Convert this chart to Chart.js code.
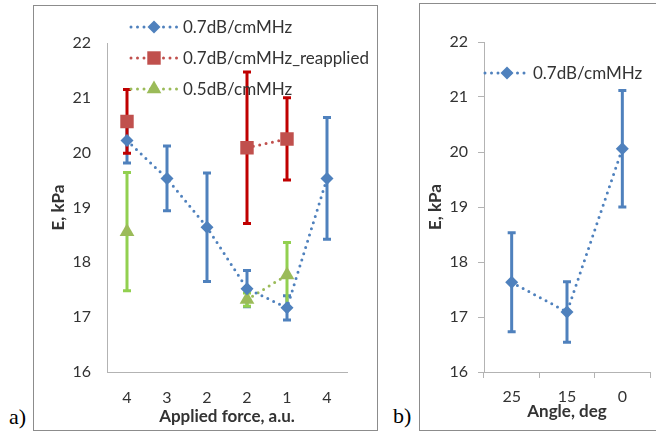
<!DOCTYPE html>
<html>
<head>
<meta charset="utf-8">
<script src="https://cdn.jsdelivr.net/npm/chart.js@4.4.1/dist/chart.umd.min.js"></script>
<style>
  html, body { margin: 0; padding: 0; background: #fff; width: 656px; height: 436px; overflow: hidden; }
  .box { position: absolute; border: 1px solid #8c8c8c; box-sizing: border-box; background: #fff; overflow: hidden; }
  .box canvas { display: block; }
  .tag { position: absolute; font-family: "Liberation Serif", "DejaVu Serif", serif; font-size: 22px; line-height: 22px; color: #000; }
</style>
</head>
<body>
<div class="box" style="left:33px;top:5px;width:345px;height:426px">
  <canvas id="forceChart" width="343" height="424"></canvas>
</div>
<div class="box" style="left:419px;top:3px;width:260px;height:428px">
  <canvas id="angleChart" width="258" height="426"></canvas>
</div>
<div class="tag" style="left:9px;top:406px">a)</div>
<div class="tag" style="left:393px;top:405px">b)</div>

<script>
// ---- data (a) applied force ----
const forceLabels = ['4', '3', '2', '2', '1', '4'];
const e07      = [20.22, 19.53, 18.64, 17.52, 17.17, 19.53];
const e07Err   = [0.41, 0.59, 0.99, 0.33, 0.22, 1.11];
const e07Re    = [20.57, null, null, 20.09, 20.25, null];
const e07ReErr = [0.58, null, null, 1.38, 0.75, null];
const e05      = [18.56, null, null, 17.32, 17.77, null];
const e05Err   = [1.08, null, null, 0.12, 0.59, null];

// ---- data (b) angle ----
const angleLabels = ['25', '15', '0'];
const eAngle    = [17.63, 17.09, 20.06];
const eAngleErr = [0.9, 0.55, 1.06];

const FONT = 'Lato, "Open Sans", sans-serif';
const TEXT = '#333';
const AXIS = '#b3b3b3';

function drawMarker(ctx, style, x, y, r, color) {
  ctx.fillStyle = color;
  ctx.beginPath();
  if (style === 'rectRot') {
    ctx.moveTo(x, y - r); ctx.lineTo(x + r, y); ctx.lineTo(x, y + r); ctx.lineTo(x - r, y);
  } else if (style === 'rect') {
    const s = r * Math.SQRT1_2;
    ctx.rect(x - s, y - s, 2 * s, 2 * s);
  } else {
    ctx.moveTo(x, y - r);
    ctx.lineTo(x + r * 0.866, y + r / 2);
    ctx.lineTo(x - r * 0.866, y + r / 2);
  }
  ctx.closePath();
  ctx.fill();
}

// error bars sit under the markers, like in Excel
const errorBars = {
  id: 'errorBars',
  beforeDatasetsDraw(chart) {
    const ctx = chart.ctx, y = chart.scales.y;
    ctx.save();
    chart.data.datasets.forEach((ds, di) => {
      if (!ds.errors) return;
      const meta = chart.getDatasetMeta(di);
      ctx.strokeStyle = ds.errorColor;
      ctx.lineWidth = 3;
      ctx.lineCap = 'butt';
      meta.data.forEach((pt, i) => {
        const v = ds.data[i], e = ds.errors[i];
        if (v == null || e == null) return;
        const top = y.getPixelForValue(v + e), bot = y.getPixelForValue(v - e);
        ctx.beginPath();
        ctx.moveTo(pt.x, top); ctx.lineTo(pt.x, bot);
        ctx.moveTo(pt.x - 4, top); ctx.lineTo(pt.x + 4, top);
        ctx.moveTo(pt.x - 4, bot); ctx.lineTo(pt.x + 4, bot);
        ctx.stroke();
      });
    });
    ctx.restore();
  }
};

// Excel style legend: dotted line with the marker in the middle
const lineLegend = {
  id: 'lineLegend',
  afterDraw(chart, args, opts) {
    const ctx = chart.ctx;
    ctx.save();
    (opts.rows || []).forEach((row, i) => {
      const ds = chart.data.datasets[i];
      ctx.strokeStyle = ds.borderColor;
      ctx.lineWidth = 3;
      ctx.lineCap = 'round';
      ctx.setLineDash([0, 6.5]);
      ctx.beginPath();
      ctx.moveTo(row.x0, row.y); ctx.lineTo(row.x1, row.y);
      ctx.stroke();
      ctx.setLineDash([]);
      drawMarker(ctx, ds.pointStyle, row.mx, row.y, ds.pointRadius, ds.pointBackgroundColor);
      ctx.fillStyle = TEXT;
      ctx.font = '17px ' + FONT;
      ctx.textBaseline = 'middle';
      ctx.fillText(ds.label, row.tx, row.y + 1);
    });
    ctx.restore();
  }
};

function series(label, data, errors, color, errorColor, style, radius) {
  return {
    label, data, errors, errorColor,
    borderColor: color,
    borderWidth: 3,
    borderDash: [0, 6.5],
    borderCapStyle: 'round',
    pointStyle: style,
    pointRadius: radius,
    pointHoverRadius: radius,
    pointBackgroundColor: color,
    pointBorderColor: color,
    pointBorderWidth: 0,
    spanGaps: false,
    tension: 0
  };
}

function axes(plotLeft, plotBottom, withTicks, xTitle, pads) {
  const tick = { color: TEXT, font: { family: FONT, size: 16 } };
  const titleFont = { family: FONT, size: 17, weight: 'bold' };
  return {
    x: {
      offset: true,
      grid: withTicks
        ? { drawOnChartArea: false, drawTicks: true, tickLength: 6, color: AXIS, offset: true }
        : { display: false, drawTicks: false },
      border: { display: true, color: AXIS, width: 1 },
      ticks: { ...tick, padding: pads.xPad, maxRotation: 0 },
      title: { display: true, text: xTitle, color: TEXT, font: titleFont, padding: { top: 0, bottom: pads.xTitlePad } },
      afterFit(scale) { scale.height = plotBottom; }
    },
    y: {
      min: 16, max: 22,
      grid: withTicks
        ? { drawOnChartArea: false, drawTicks: true, tickLength: 6, color: AXIS }
        : { display: false, drawTicks: false },
      border: { display: true, color: AXIS, width: 1 },
      ticks: { ...tick, stepSize: 1, padding: pads.yPad },
      title: { display: true, text: 'E, kPa', color: TEXT, font: titleFont, padding: { top: pads.yTitlePad, bottom: 0 } },
      afterFit(scale) { scale.width = plotLeft; }
    }
  };
}

Chart.register(errorBars, lineLegend);

new Chart(document.getElementById('forceChart'), {
  type: 'line',
  data: {
    labels: forceLabels,
    datasets: [
      series('0.7dB/cmMHz', e07, e07Err, '#4F81BD', '#4F81BD', 'rectRot', 6.5),
      series('0.7dB/cmMHz_reapplied', e07Re, e07ReErr, '#C0504D', '#C00000', 'rect', 9.5),
      series('0.5dB/cmMHz', e05, e05Err, '#9BBB59', '#92D050', 'triangle', 8.5)
    ]
  },
  options: {
    responsive: false,
    animation: false,
    layout: { padding: { top: 37, right: 30, left: 0, bottom: 0 } },
    plugins: {
      legend: { display: false },
      tooltip: { enabled: false },
      lineLegend: { rows: [
        { x0: 97, x1: 143, mx: 120, tx: 149, y: 21 },
        { x0: 97, x1: 143, mx: 120, tx: 149, y: 52 },
        { x0: 97, x1: 143, mx: 120, tx: 149, y: 83 }
      ] }
    },
    scales: axes(73, 58, false, 'Applied force, a.u.', { xPad: 16, yPad: 16, xTitlePad: 3, yTitlePad: 14 })
  }
});

new Chart(document.getElementById('angleChart'), {
  type: 'line',
  data: {
    labels: angleLabels,
    datasets: [
      series('0.7dB/cmMHz', eAngle, eAngleErr, '#4F81BD', '#4F81BD', 'rectRot', 6.5)
    ]
  },
  options: {
    responsive: false,
    animation: false,
    layout: { padding: { top: 38, right: 28, left: 0, bottom: 0 } },
    plugins: {
      legend: { display: false },
      tooltip: { enabled: false },
      lineLegend: { rows: [
        { x0: 65, x1: 107, mx: 87, tx: 113, y: 69 }
      ] }
    },
    scales: axes(64, 58, true, 'Angle, deg', { xPad: 9, yPad: 10, xTitlePad: 8, yTitlePad: 5 })
  }
});
</script>
</body>
</html>
